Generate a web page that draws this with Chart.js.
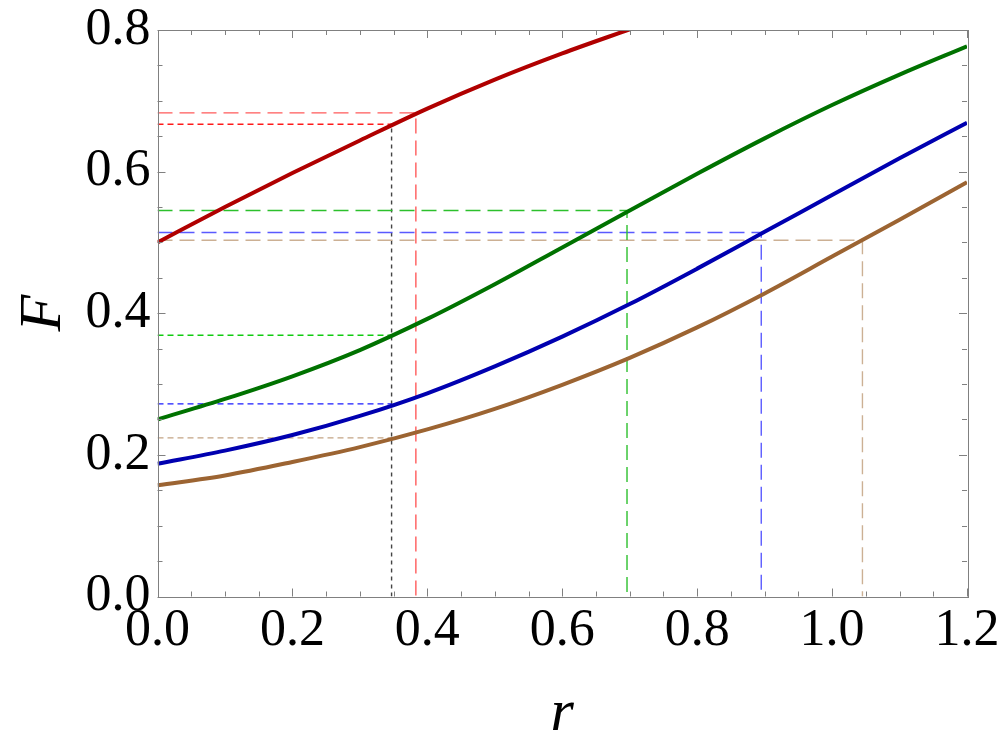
<!DOCTYPE html>
<html>
<head>
<meta charset="utf-8">
<script src="https://cdn.jsdelivr.net/npm/chart.js@4.4.1/dist/chart.umd.min.js"></script>
<style>
  html, body { margin: 0; padding: 0; background: #fff; }
  #wrap { width: 1000px; height: 748px; }
</style>
</head>
<body>
<div id="wrap"><canvas id="fChart" width="1000" height="748"></canvas></div>
<script>
/* --- DATA --- */
const rValues = [0, 0.1, 0.2, 0.3, 0.4, 0.5, 0.6, 0.7, 0.8, 0.9, 1.0, 1.1, 1.2];
const redF   = [0.500, 0.550, 0.598, 0.644, 0.689, 0.730, 0.767, 0.801];
const greenF = [0.250, 0.279, 0.311, 0.348, 0.392, 0.441, 0.493, 0.545, 0.597, 0.647, 0.694, 0.737, 0.777];
const blueF  = [0.1875, 0.206, 0.228, 0.255, 0.287, 0.325, 0.367, 0.413, 0.463, 0.515, 0.567, 0.619, 0.669];
const brownF = [0.157, 0.171, 0.190, 0.211, 0.236, 0.265, 0.299, 0.337, 0.380, 0.428, 0.480, 0.532, 0.585];

// dashed guide lines: where each curve reaches its level
const dashR = [0.383, 0.696, 0.895, 1.045];
const dashF = [0.683, 0.545, 0.514, 0.503];
// dotted guide lines at a common r
const dotR = 0.347;
const dotF = [0.667, 0.369, 0.272, 0.224];

const xTickLabels = ['0.0', '0.2', '0.4', '0.6', '0.8', '1.0', '1.2'];
const yTickLabels = ['0.0', '0.2', '0.4', '0.6', '0.8'];

/* --- STYLE --- */
const curveColors = ['#b00000', '#007200', '#0000b0', '#9c6432'];
const dashColors  = ['#ff5a5a', '#2cc02c', '#5a5aff', '#ccb094'];
const dotColors   = ['#ff1a1a', '#10cc10', '#1a1aff', '#c4a484'];
const serif = "'Liberation Serif', 'DejaVu Serif', serif";

function toPoints(xs, ys) {
    return ys.map((v, i) => ({ x: xs[i], y: v }));
}

function curve(data, color) {
    return {
        data: toPoints(rValues, data),
        borderColor: color,
        borderWidth: 4,
        showLine: true,
        pointRadius: 0,
        cubicInterpolationMode: 'monotone',
        fill: false
    };
}

function guide(points, color, dash) {
    return {
        data: points,
        borderColor: color,
        borderWidth: 1.4,
        borderDash: dash,
        showLine: true,
        pointRadius: 0,
        tension: 0,
        fill: false
    };
}

const datasets = [
    curve(redF, curveColors[0]),
    curve(greenF, curveColors[1]),
    curve(blueF, curveColors[2]),
    curve(brownF, curveColors[3])
];

dashR.forEach((r, i) => {
    datasets.push(guide([{ x: 0, y: dashF[i] }, { x: r, y: dashF[i] }, { x: r, y: 0 }], dashColors[i], [15, 7]));
});
dotF.forEach((f, i) => {
    datasets.push(guide([{ x: 0, y: f }, { x: dotR, y: f }], dotColors[i], [6, 4]));
});
datasets.push(guide([{ x: dotR, y: 0 }, { x: dotR, y: dotF[0] }], '#444444', [4, 4]));

/* --- FRAME WITH INWARD TICKS --- */
const minorStep = 0.05;
const frameTicks = {
    id: 'frameTicks',
    afterDatasetsDraw(chart) {
        const { ctx, chartArea: a, scales: { x, y } } = chart;
        ctx.save();
        ctx.strokeStyle = '#808080';
        ctx.lineWidth = 1;
        ctx.beginPath();
        const nx = Math.round((x.max - x.min) / minorStep);
        for (let i = 0; i <= nx; i++) {
            const px = Math.round(x.getPixelForValue(x.min + i * minorStep)) + 0.5;
            const len = i % 4 === 0 ? 8 : 5;
            ctx.moveTo(px, a.bottom); ctx.lineTo(px, a.bottom - len);
            ctx.moveTo(px, a.top); ctx.lineTo(px, a.top + len);
        }
        const ny = Math.round((y.max - y.min) / minorStep);
        for (let i = 0; i <= ny; i++) {
            const py = Math.round(y.getPixelForValue(y.min + i * minorStep)) + 0.5;
            const len = i % 4 === 0 ? 8 : 5;
            ctx.moveTo(a.left, py); ctx.lineTo(a.left + len, py);
            ctx.moveTo(a.right, py); ctx.lineTo(a.right - len, py);
        }
        ctx.stroke();
        ctx.strokeRect(Math.round(a.left) + 0.5, Math.round(a.top) + 0.5,
            Math.round(a.right - a.left), Math.round(a.bottom - a.top));
        ctx.restore();
    }
};

const ctx = document.getElementById('fChart').getContext('2d');
new Chart(ctx, {
    type: 'scatter',
    data: { datasets: datasets },
    plugins: [frameTicks],
    options: {
        responsive: false,
        animation: false,
        events: [],
        layout: { padding: { top: 30, right: 33, left: 0, bottom: 0 } },
        plugins: {
            legend: { display: false },
            tooltip: { enabled: false }
        },
        scales: {
            x: {
                type: 'linear',
                min: 0,
                max: 1.2,
                afterFit: (s) => { s.height = 151.5; s.paddingLeft = 0; s.paddingRight = 0; },
                afterBuildTicks: (s) => { s.ticks = xTickLabels.map(t => ({ value: parseFloat(t) })); },
                ticks: {
                    callback: (v) => Number(v).toFixed(1),
                    color: '#000',
                    padding: 5,
                    maxRotation: 0,
                    autoSkip: false,
                    font: { family: serif, size: 52, lineHeight: 1.15 }
                },
                grid: { display: false, drawTicks: false },
                border: { display: false },
                title: {
                    display: true,
                    text: 'r',
                    color: '#000',
                    padding: { top: 0, bottom: -2 },
                    font: { family: serif, size: 60, style: 'italic', lineHeight: 1.2 }
                }
            },
            y: {
                type: 'linear',
                min: 0,
                max: 0.8,
                afterFit: (s) => { s.width = 157.5; s.paddingTop = 0; s.paddingBottom = 0; },
                afterBuildTicks: (s) => { s.ticks = yTickLabels.map(t => ({ value: parseFloat(t) })); },
                ticks: {
                    callback: (v) => Number(v).toFixed(1),
                    color: '#000',
                    padding: 7,
                    autoSkip: false,
                    font: { family: serif, size: 52, lineHeight: 1.15 }
                },
                grid: { display: false, drawTicks: false },
                border: { display: false },
                title: {
                    display: true,
                    text: 'F',
                    color: '#000',
                    padding: { top: 8, bottom: 0 },
                    font: { family: serif, size: 60, style: 'italic', lineHeight: 1.2 }
                }
            }
        }
    }
});
</script>
</body>
</html>
